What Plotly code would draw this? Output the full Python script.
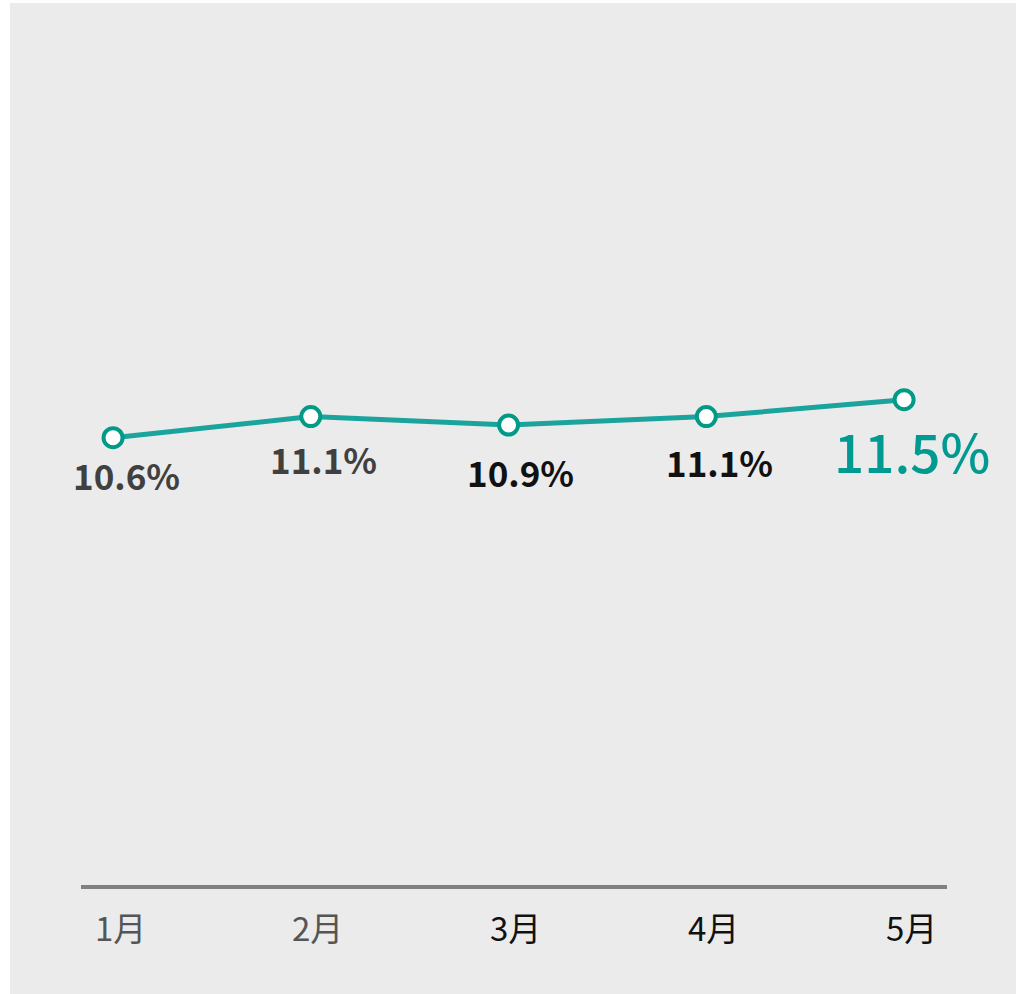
import plotly.graph_objects as go

months = ["1月", "2月", "3月", "4月", "5月"]
values = [10.6, 11.1, 10.9, 11.1, 11.5]
labels = ["10.6%", "11.1%", "10.9%", "11.1%", "11.5%"]

label_colors = ["#404040", "#404040", "#111111", "#111111", "#009a90"]
label_sizes = [35, 35, 35, 35, 53]
label_weights = [700, 700, 700, 700, 500]
label_shift = [(13, -37), (13, -42), (12, -46), (13, -45), (8, -50)]
tick_colors = ["#555555", "#555555", "#111111", "#111111", "#111111"]

W, H = 1026, 994
FONT = "Noto Sans CJK JP"

fig = go.Figure()
fig.add_trace(go.Scatter(
    x=list(range(len(months))), y=values, mode="lines+markers",
    line=dict(color="#1ba49d", width=5),
    marker=dict(size=19, color="white", line=dict(color="#009a87", width=4)),
    hoverinfo="skip", showlegend=False,
))

annotations = []
for i, (lab, v) in enumerate(zip(labels, values)):
    annotations.append(dict(
        x=i, y=v, xref="x", yref="y", text=lab, showarrow=False,
        xanchor="center", yanchor="middle",
        xshift=label_shift[i][0], yshift=label_shift[i][1],
        font=dict(family=FONT, size=label_sizes[i], color=label_colors[i],
                  weight=label_weights[i]),
    ))
for i, m in enumerate(months):
    annotations.append(dict(
        x=i, y=(H - 927) / H, xref="x", yref="paper", text=m, showarrow=False,
        xanchor="center", yanchor="middle", xshift=7,
        font=dict(family=FONT, size=33, color=tick_colors[i]),
    ))

fig.update_layout(
    width=W, height=H, margin=dict(l=0, r=0, t=0, b=0),
    paper_bgcolor="white", plot_bgcolor="rgba(0,0,0,0)",
    xaxis=dict(domain=[81 / W, 947 / W], range=[-0.162, 4.217],
               showgrid=False, zeroline=False, showticklabels=False,
               showline=True, linecolor="#808080", linewidth=4, ticks=""),
    yaxis=dict(domain=[(H - 885) / H, (H - 41) / H], range=[0, 20],
               showgrid=False, zeroline=False, showticklabels=False,
               showline=False),
    shapes=[dict(type="rect", xref="paper", yref="paper", layer="below",
                 x0=10 / W, x1=1016 / W, y0=0, y1=(H - 3) / H,
                 fillcolor="#ebebeb", line=dict(width=0))],
    annotations=annotations,
)

fig.write_html("out.html", config={"displayModeBar": False},
               post_script="document.body.style.margin='0';")
